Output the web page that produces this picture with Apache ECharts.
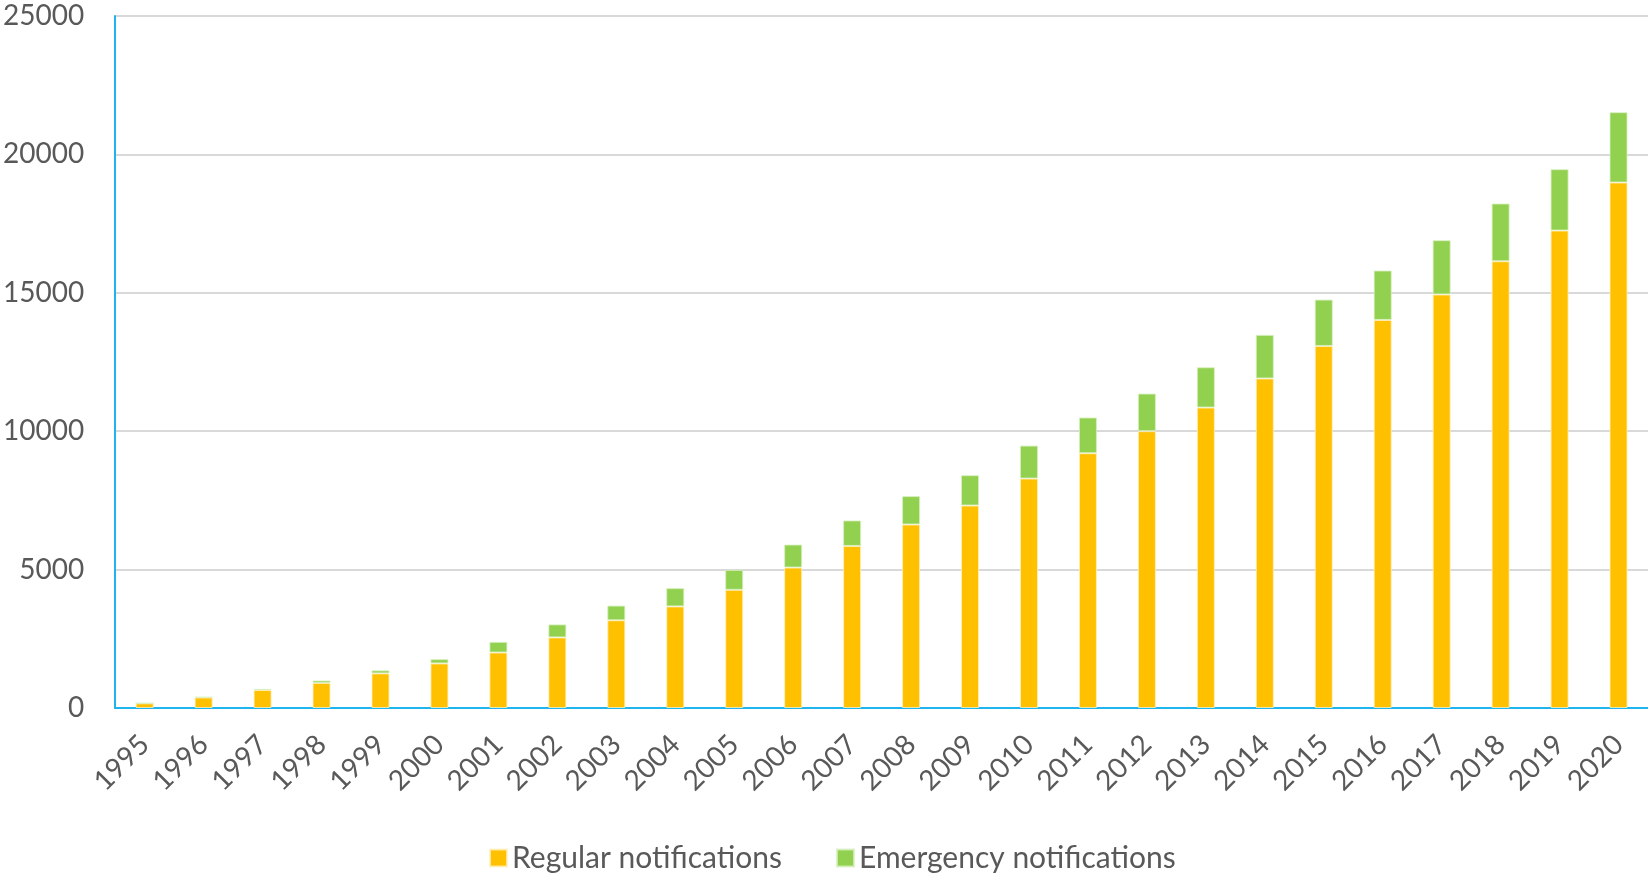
<!DOCTYPE html>
<html>
<head>
<meta charset="utf-8">
<script src="https://cdn.jsdelivr.net/npm/echarts@6/dist/echarts.min.js"></script>
<style>
html,body{margin:0;padding:0;background:#fff;}
#chart{width:1648px;height:876px;}
</style>
</head>
<body>
<div id="chart"></div>
<script>
const years = ['1995','1996','1997','1998','1999','2000','2001','2002','2003','2004','2005','2006','2007','2008','2009','2010','2011','2012','2013','2014','2015','2016','2017','2018','2019','2020'];
const regular = [170,380,650,905,1250,1610,2005,2550,3170,3670,4270,5075,5855,6630,7315,8290,9205,10000,10855,11905,13080,14020,14940,16140,17250,18985];
const emergency = [5,20,40,88,110,155,385,470,530,660,720,830,920,1025,1095,1190,1290,1360,1455,1575,1675,1785,1960,2085,2215,2540];
const yTicks = {min:0, max:25000, interval:5000};

const textColor = '#595959';
const fontFamily = 'Lato, "Noto Sans", sans-serif';
const chart = echarts.init(document.getElementById('chart'));
chart.setOption({
  animation:false,
  textStyle:{fontFamily:fontFamily, color:textColor},
  grid:{left:113, right:0, top:16, bottom:168, containLabel:false},
  legend:{
    bottom:-2, left:484,
    itemWidth:17, itemHeight:17, itemGap:54,
    icon:'rect',
    textStyle:{fontSize:30, color:textColor, fontFamily:fontFamily},
    data:['Regular notifications','Emergency notifications']
  },
  xAxis:{
    type:'category', data:years,
    axisLine:{show:true, lineStyle:{color:'#1EB4EE', width:2}},
    axisTick:{show:false},
    axisLabel:{rotate:45, fontSize:28, color:textColor, margin:32, interval:0, fontFamily:fontFamily}
  },
  yAxis:{
    type:'value', min:yTicks.min, max:yTicks.max, interval:yTicks.interval,
    axisLine:{show:true, lineStyle:{color:'#1EB4EE', width:2}},
    axisTick:{show:false},
    splitLine:{show:true, lineStyle:{color:'#D9D9D9', width:2}},
    axisLabel:{fontSize:28, color:textColor, margin:31, fontFamily:fontFamily,
      formatter:function(v){return String(v);}}
  },
  series:[
    {name:'Regular notifications', type:'bar', stack:'total', data:regular, barWidth:18,
     itemStyle:{color:'#FFC000', borderColor:'rgba(255,240,190,0.8)', borderWidth:1}},
    {name:'Emergency notifications', type:'bar', stack:'total', data:emergency, barWidth:18,
     itemStyle:{color:'#92D050', borderColor:'rgba(215,240,190,0.8)', borderWidth:1}}
  ]
});
</script>
</body>
</html>
